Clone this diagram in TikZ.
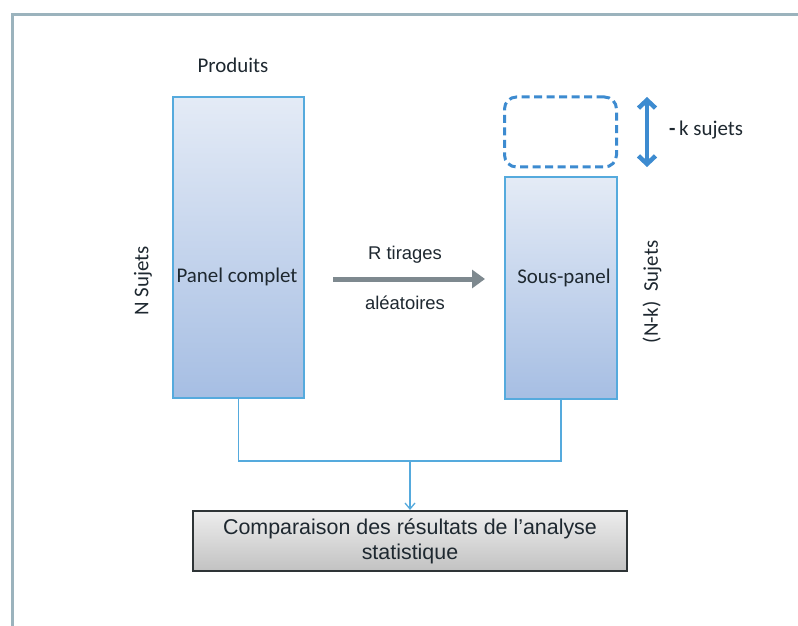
\documentclass[tikz,border=0pt]{standalone}
\usepackage{fontspec}
\usetikzlibrary{arrows.meta}
\newfontfamily\calfont{Carlito}
\newfontfamily\arifont{Liberation Sans}
\definecolor{framec}{HTML}{9BB3BD}
\definecolor{panelborder}{HTML}{55AADD}
\definecolor{paneltop}{HTML}{E4EBF6}
\definecolor{panelbot}{HTML}{A6BEE3}
\definecolor{dashblue}{HTML}{3D8BD0}
\definecolor{arrgray}{HTML}{7E898F}
\definecolor{txt}{HTML}{1E2830}
\definecolor{boxtop}{HTML}{EDEDED}
\definecolor{boxbot}{HTML}{C2C2C2}
\definecolor{boxborder}{HTML}{2E3436}
\tikzset{
  panel/.style={draw=panelborder, line width=1.2bp, top color=paneltop, bottom color=panelbot, inner sep=0pt},
  callabel/.style={font=\calfont\fontsize{21}{24}\selectfont, text=txt, inner sep=0pt},
  arilabel/.style={font=\arifont\fontsize{18.5}{22}\selectfont, text=txt, inner sep=0pt},
  conn/.style={draw=panelborder, line width=1.3bp},
}
\begin{document}
\begin{tikzpicture}[x=1bp,y=-1bp]
\useasboundingbox (0,0) rectangle (798,626);
\fill[white] (0,0) rectangle (798,626);
% frame
\draw[framec, line width=3bp] (12,626) -- (12,15) -- (798,15);
% panels
\node[panel, minimum width=131bp, minimum height=301bp] (lp) at (238.5,247.5) {};
\node[panel, minimum width=112bp, minimum height=222bp] (rp) at (561,288) {};
\node[draw=dashblue, line width=3bp, dash pattern=on 8bp off 4.5bp, rounded corners=12bp,
      minimum width=112bp, minimum height=70bp, inner sep=0pt] (dp) at (560.5,132) {};
% labels
\node[callabel] (prod) at (233,65) {Produits};
\node[callabel] (pc) at (237,277) {Panel complet};
\node[callabel] (sp) at (564,278) {Sous-panel};
\node[callabel, rotate=90] (ns) at (143,281) {N Sujets};
\node[callabel, rotate=90] (nks) at (652,292) {(N-k)\ \ Sujets};
\node[callabel, anchor=west] (ks) at (669,130) {\textbf{-}\,k sujets};
\node[arilabel] (rt) at (405,255) {R tirages};
\node[arilabel] (al) at (405,303) {aléatoires};
% gray arrow
\coordinate (a1) at (333,279);
\coordinate (a2) at (485,279);
\draw[arrgray, line width=5bp, -{Triangle[length=13bp,width=18bp]}] (a1) -- (a2);
% double arrow
\coordinate (d1) at (647,97);
\coordinate (d2) at (647,167);
\draw[dashblue, line width=4.5bp, {Straight Barb[length=8bp,width=17bp]}-{Straight Barb[length=8bp,width=17bp]}] (d1) -- (d2);
% bottom box
\node[draw=boxborder, line width=2bp, top color=boxtop, bottom color=boxbot,
      minimum width=434bp, minimum height=60bp, inner sep=0pt, align=center,
      font=\arifont\fontsize{21.5}{25}\selectfont, text=txt] (cb) at (410,541)
      {Comparaison des résultats de l’analyse\\statistique};
% connectors
\coordinate (j) at (410,461);
\draw[conn] (lp.south) |- (j) -| (rp.south);
\draw[conn, -{Straight Barb[length=6bp,width=10bp]}] (j) -- (cb.north);
\end{tikzpicture}
\end{document}
